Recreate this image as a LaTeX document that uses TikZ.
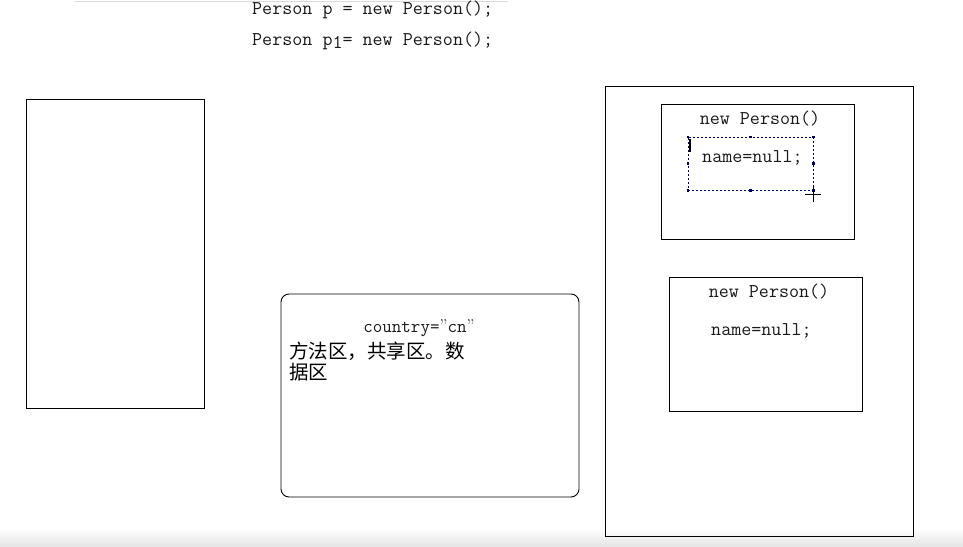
\documentclass[tikz,border=0pt]{standalone}
\usepackage{fontspec}
\newfontfamily\cjk{Noto Sans CJK SC}
\usetikzlibrary{positioning}

\tikzset{
  box/.style={draw, line width=0.9pt, inner sep=0pt},
  code/.style={font=\ttfamily\fontsize{19.5}{21}\selectfont, text=black!90, inner sep=0pt},
  handle/.style={fill=blue!40!black, inner sep=0pt, minimum size=2.6pt}
}

\begin{document}
\begin{tikzpicture}[x=1pt,y=-1pt]
        \useasboundingbox (0,0) rectangle (963,546);
        \shade[top color=white, bottom color=black!10] (0,528) rectangle (963,546);
        \draw[black!15] (75,1) -- (508,1);

        % the two statements
        \node[code, anchor=west] (stmtp) at (252,10) {Person p = new Person();};
        \node[code, anchor=west] (stmtpone) at (252,41) {Person p\raisebox{-3pt}{1}= new Person();};

        % stack, method area, heap
        \node[box, minimum width=178pt, minimum height=309pt] (stack) at (115,253.5) {};
        \node[box, rounded corners=8pt, minimum width=298pt, minimum height=203pt] (method) at (430,395.5) {};
        \node[box, minimum width=308pt, minimum height=450pt] (heap) at (759,311) {};

        % method area text
        \node[code, font=\ttfamily\fontsize{18.5}{21}\selectfont] (country) at (419,328)
             {country={\rmfamily ”}cn{\rmfamily ”}};
        \node[anchor=north west, inner sep=0pt, text width=190pt, align=left,
              font=\cjk\fontsize{19.5}{21}\selectfont] (area) at (289,342) {方法区，共享区。数\\据区};

        % first object
        \node[box, minimum width=193pt, minimum height=135pt] (objone) at (757.5,171.5) {};
        \node[code] (newone) at (760,119) {new Person()};
        \node[code, anchor=west] (nameone) at (702,158) {name=null;};
        \node[draw=blue!45!black, dash pattern=on 2pt off 2pt, inner sep=0pt,
              minimum width=125pt, minimum height=53pt] (sel) at (750.5,163.5) {};
        \foreach \a in {north west, north, north east, west, east, south west, south, south east}
            \node[handle] at (sel.\a) {};
        \draw[line width=1.2pt] (690,139) -- (690,152);
        \coordinate (cursor) at (813,194);
        \draw ([xshift=-8pt]cursor) -- ([xshift=8pt]cursor)
              ([yshift=-8pt]cursor) -- ([yshift=8pt]cursor);

        % second object
        \node[box, minimum width=193pt, minimum height=134pt] (objtwo) at (765.5,344) {};
        \node[code] (newtwo) at (769,292) {new Person()};
        \node[code, anchor=west] (nametwo) at (711,331) {name=null;};
\end{tikzpicture}
\end{document}
